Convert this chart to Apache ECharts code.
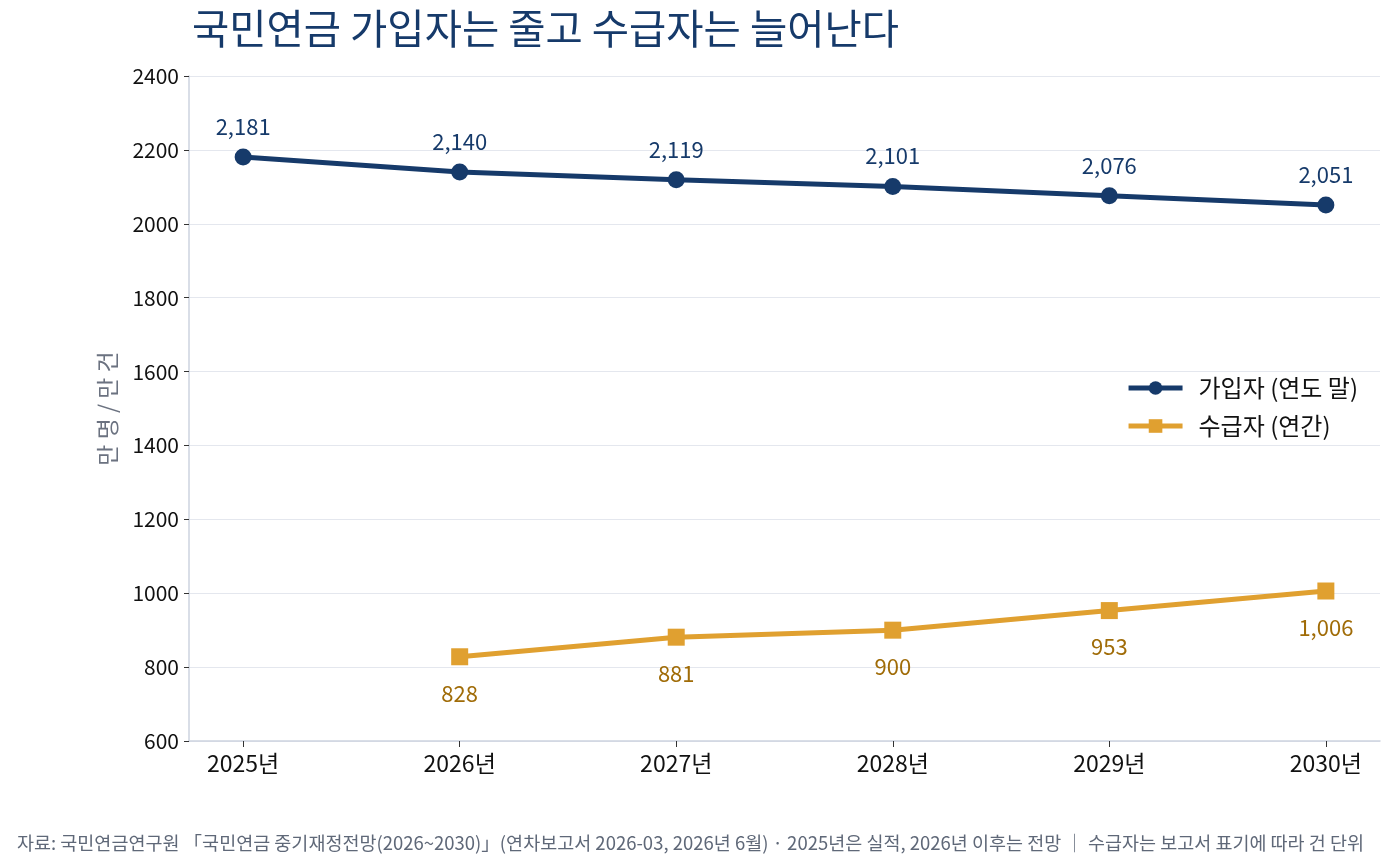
<!DOCTYPE html>
<html><head><meta charset="utf-8">
<script src="https://cdn.jsdelivr.net/npm/echarts@6/dist/echarts.min.js"></script>
<style>html,body{margin:0;padding:0;background:#fff}#c{width:1392px;height:867px}</style>
</head><body><div id="c"></div>
<script>
const years = [2025, 2026, 2027, 2028, 2029, 2030];
const yearLabels = ['2025년', '2026년', '2027년', '2028년', '2029년', '2030년'];
const subscribers = [2181, 2140, 2119, 2101, 2076, 2051];
const recipients = [null, 828, 881, 900, 953, 1006];
const yTicks = [600, 800, 1000, 1200, 1400, 1600, 1800, 2000, 2200, 2400];

const FONT = '"Noto Sans CJK KR", "Noto Sans", sans-serif';
const NAVY = '#163a6a';
const GOLD = '#e0a030';

const chart = echarts.init(document.getElementById('c'));
const pair = (vals) => years.map((y, i) => [y, vals[i]]).filter(p => p[1] != null);

chart.setOption({
  backgroundColor: '#fff',
  textStyle: { fontFamily: FONT },
  title: [{
    text: '국민연금 가입자는 줄고 수급자는 늘어난다',
    left: 187, top: 3,
    textStyle: { fontFamily: FONT, fontSize: 40.5, fontWeight: 'normal', color: NAVY }
  }, {
    text: '자료: 국민연금연구원 「국민연금 중기재정전망(2026~2030)」(연차보고서 2026-03, 2026년 6월) · 2025년은 실적, 2026년 이후는 전망 │ 수급자는 보고서 표기에 따라 건 단위',
    left: 12, top: 829,
    textStyle: { fontFamily: FONT, fontSize: 18.5, fontWeight: 'normal', color: '#5f6878' }
  }],
  legend: {
    orient: 'vertical', right: 29, top: 371,
    itemWidth: 54, itemHeight: 17, itemGap: 14,
    lineStyle: { width: 5 },
    textStyle: { fontFamily: FONT, fontSize: 24, color: '#111', padding: [0, 0, 0, 11] },
    data: ['가입자 (연도 말)', '수급자 (연간)']
  },
  grid: { left: 189, right: 12, top: 76, bottom: 126 },
  xAxis: {
    type: 'value', min: 2024.75, max: 2030.25,
    axisLine: { show: true, lineStyle: { color: '#cdd3df', width: 1.5 } },
    axisTick: { show: true, customValues: years, length: 6, lineStyle: { color: '#333' } },
    axisLabel: {
      customValues: years, fontSize: 23, color: '#111', margin: 11,
      formatter: (v) => yearLabels[years.indexOf(Math.round(v))] || ''
    },
    splitLine: { show: false }
  },
  yAxis: {
    type: 'value', min: 600, max: 2400, interval: 200,
    name: '만 명 / 만 건', nameLocation: 'middle', nameGap: 70,
    nameTextStyle: { fontFamily: FONT, fontSize: 23, color: '#6b7280' },
    axisLine: { show: true, lineStyle: { color: '#cdd3df', width: 1.5 } },
    axisTick: { show: true, length: 5, lineStyle: { color: '#333' } },
    axisLabel: { fontSize: 21, color: '#111', margin: 10, formatter: (v) => String(v) },
    splitLine: { show: true, lineStyle: { color: '#e4e7ee', width: 1.2 } }
  },
  series: [{
    name: '가입자 (연도 말)', type: 'line', data: pair(subscribers),
    symbol: 'circle', symbolSize: 17,
    lineStyle: { color: NAVY, width: 5 },
    itemStyle: { color: NAVY },
    label: {
      show: true, position: 'top', distance: 11, fontSize: 22, color: NAVY,
      formatter: (p) => p.value[1].toLocaleString('en-US')
    }
  }, {
    name: '수급자 (연간)', type: 'line', data: pair(recipients),
    symbol: 'rect', symbolSize: 17,
    lineStyle: { color: GOLD, width: 5 },
    itemStyle: { color: GOLD },
    label: {
      show: true, position: 'bottom', distance: 17, fontSize: 22, color: '#a06c08',
      formatter: (p) => p.value[1].toLocaleString('en-US')
    }
  }]
});
</script></body></html>
